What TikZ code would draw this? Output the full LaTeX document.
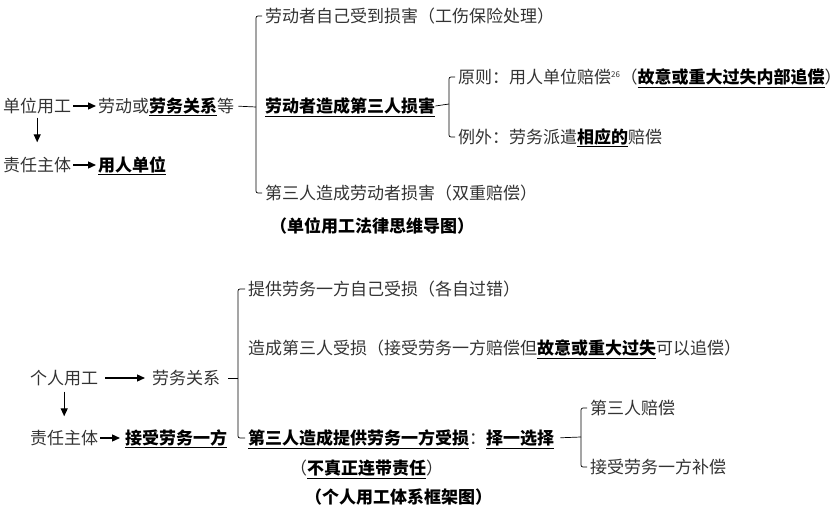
\documentclass[tikz,border=0pt]{standalone}
\usepackage{fontspec}
\setmainfont{Noto Sans CJK SC}
\usetikzlibrary{positioning, arrows.meta, calc}

\newcommand{\keyterm}[1]{{\bfseries\color{black}\underline{#1}}}

\begin{document}
\begin{tikzpicture}[
        x=1pt, y=-1pt,
        >={Triangle[length=8pt, width=7pt]}, % Arrowhead style
        item/.style={anchor=west, inner sep=0pt, text height=14pt, text depth=1pt,
                     font=\fontsize{17}{20}\selectfont, text=black!80},
        caption/.style={item, font=\fontsize{17}{20}\selectfont\bfseries, text=black},
        link/.style={->, line width=1.3pt},
        brace/.style={line width=0.7pt, rounded corners=2pt}
    ]
    \useasboundingbox (0,0) rectangle (840,519);

    % ==========================================
    % 1. UNIT EMPLOYMENT (TOP)
    % ==========================================
    \node[item] (unit)    at (3, 106)  {单位用工};
    \node[item] (unitrel) at (98, 106) {劳动或\keyterm{劳务关系}等};
    \node[item] (subjA)   at (3, 165)  {责任主体};
    \node[item] (employer) at (98, 165) {\keyterm{用人单位}};

    \draw[link, shorten <=2pt, shorten >=2pt] (unit) -- (unitrel);
    \draw[link, shorten <=4pt, shorten >=15pt] (unit.south) -- (subjA.north);
    \draw[link, shorten <=2pt, shorten >=2pt] (subjA) -- (employer);

    % Branches of the relation
    \node[item] (selfhurt)  at (265, 16)  {劳动者自己受到损害（工伤保险处理）};
    \node[item] (causethird) at (265, 106) {\keyterm{劳动者造成第三人损害}};
    \node[item] (thirdhurt) at (265, 193) {第三人造成劳动者损害（双重赔偿）};

    \coordinate (jointA) at (256, 107);
    \draw[brace, shorten <=4pt] (unitrel.east) -- (jointA);
    \draw[brace] ([xshift=-3pt]selfhurt.west) -| (jointA) |- ([xshift=-3pt]thirdhurt.west);

    % Principle and exception
    \node[item] (rule)   at (458, 77)
        {原则：用人单位赔偿\textsuperscript{\fontsize{8}{8}\selectfont 26}（\keyterm{故意或重大过失内部追偿}）};
    \node[item] (except) at (458, 137) {例外：劳务派遣\keyterm{相应的}赔偿};

    \coordinate (jointB) at (449, 104);
    \draw[brace] (causethird.east) -- (jointB);
    \draw[brace] ([xshift=-3pt]rule.west) -| (jointB) |- ([xshift=-3pt]except.west);

    \node[caption] (capA) at (270, 226) {（单位用工法律思维导图）};

    % ==========================================
    % 2. PERSONAL EMPLOYMENT (BOTTOM)
    % ==========================================
    \node[item] (person)   at (30, 378)  {个人用工};
    \node[item] (servrel)  at (152, 378) {劳务关系};
    \node[item] (subjB)    at (30, 438)  {责任主体};
    \node[item] (receiver) at (125, 438) {\keyterm{接受劳务一方}};

    \draw[link, shorten <=7pt, shorten >=7pt] (person) -- (servrel);
    \draw[link, shorten <=6pt, shorten >=14pt] (person.south) -- (subjB.north);
    \draw[link, shorten <=2pt, shorten >=5pt] (subjB) -- (receiver);

    % Branches of the service relation
    \node[item] (provhurt)  at (248, 289) {提供劳务一方自己受损（各自过错）};
    \node[item] (thirdloss) at (248, 348)
        {造成第三人受损（接受劳务一方赔偿但\keyterm{故意或重大过失}可以追偿）};
    \node[item] (choose)    at (248, 438)
        {\keyterm{第三人造成提供劳务一方受损}：\keyterm{择一选择}};
    \node[item] (notjoint)  at (290, 468) {（\keyterm{不真正连带责任}）};

    \coordinate (jointC) at (238, 378);
    \draw[brace, shorten <=8pt] (servrel.east) -- (jointC);
    \draw[brace] ([xshift=-3pt]provhurt.west) -| (jointC) |- ([xshift=-3pt]choose.west);

    % Either of two payers
    \node[item] (thirdpay) at (590, 408) {第三人赔偿};
    \node[item] (recvpay)  at (590, 467) {接受劳务一方补偿};

    \coordinate (jointD) at (581, 437);
    \draw[brace, shorten <=6pt] (choose.east) -- (jointD);
    \draw[brace] ([xshift=-3pt]thirdpay.west) -| (jointD) |- ([xshift=-3pt]recvpay.west);

    \node[caption] (capB) at (305, 497) {（个人用工体系框架图）};

    \end{tikzpicture}
\end{document}
